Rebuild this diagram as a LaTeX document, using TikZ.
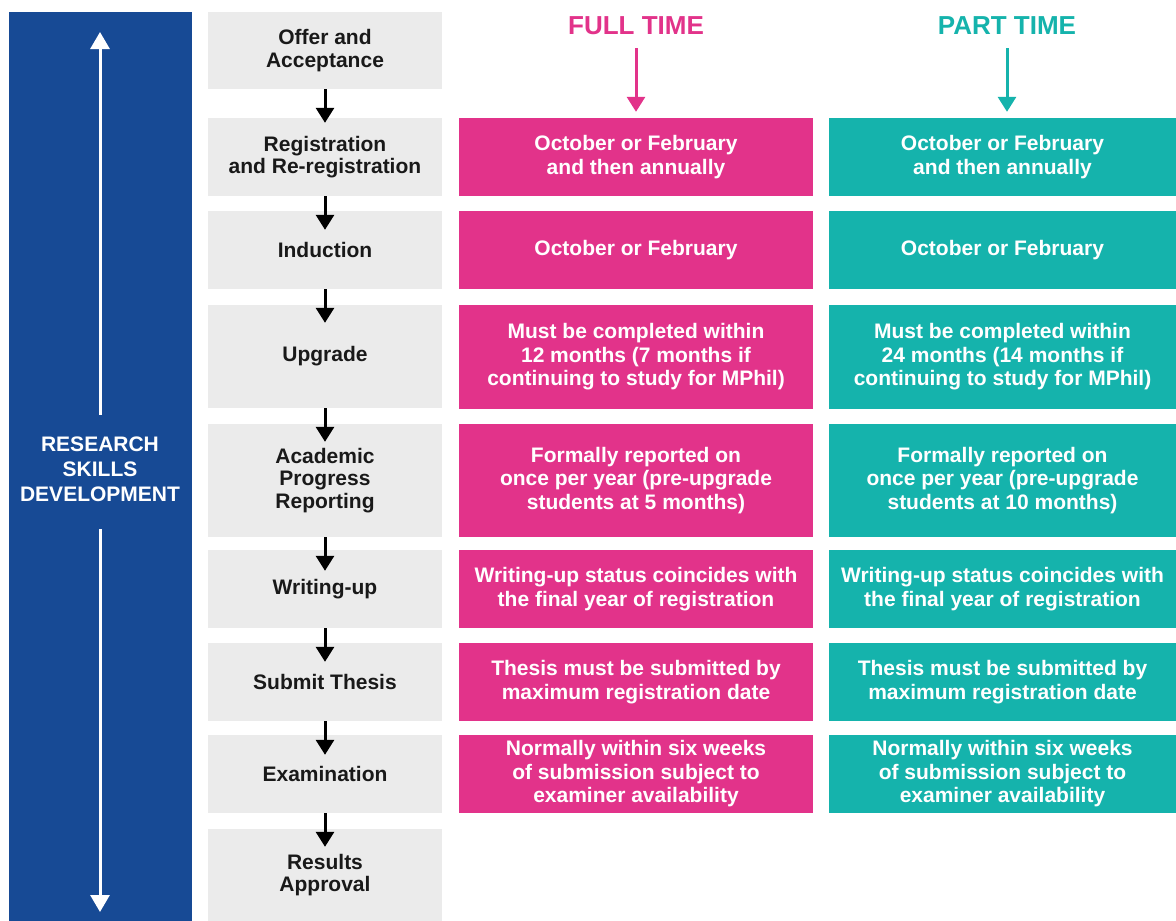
\documentclass[tikz,border=0pt]{standalone}
\usepackage{fontspec}
\setmainfont{Liberation Sans}
\usetikzlibrary{arrows.meta}
\definecolor{rsblue}{HTML}{174A95}
\definecolor{ftpink}{HTML}{E2338A}
\definecolor{ptteal}{HTML}{15B3AC}
\definecolor{stagegray}{HTML}{EBEBEB}
\begin{document}
\begin{tikzpicture}[x=1pt,y=-1pt,
  stagebox/.style={fill=stagegray, minimum width=234pt, inner sep=0pt, align=center,
    font=\fontsize{21}{22.5}\selectfont\bfseries, text=black!90},
  ftbox/.style={fill=ftpink, minimum width=354pt, inner sep=0pt, align=center,
    font=\fontsize{21}{23.5}\selectfont\bfseries, text=white},
  ptbox/.style={fill=ptteal, minimum width=347pt, inner sep=0pt, align=center,
    font=\fontsize{21}{23.5}\selectfont\bfseries, text=white},
  title/.style={inner sep=0pt, font=\fontsize{26}{28}\selectfont\bfseries},
  blarr/.style={draw=black, line width=3pt, -{Triangle[width=18pt,length=15pt]}},
  colarr/.style={line width=3pt, -{Triangle[width=18pt,length=15pt]}},
  warr/.style={draw=white, line width=3pt, -{Triangle[width=19pt,length=17pt]}}
]
\useasboundingbox (0,0) rectangle (1176,921);
\fill[white] (0,0) rectangle (1176,921);

% left bar
\node[fill=rsblue, minimum width=183pt, minimum height=909pt, inner sep=0pt] (bar) at (100.5,466.5) {};
\node[inner sep=0pt, minimum height=114pt, align=center, text=white,
  font=\fontsize{21}{25}\selectfont\bfseries] (rsd) at (100,469) {RESEARCH\\SKILLS\\DEVELOPMENT};
\coordinate (rtop) at (100,32);
\coordinate (rbot) at (100,912);
\draw[warr] ([yshift=-3pt]rsd.north) -- (rtop);
\draw[warr] ([yshift=-3pt]rsd.south) -- (rbot);

% stage column
\node[stagebox, minimum height=77pt]  (g1) at (325,50.5)  {Offer and\\Acceptance};
\node[stagebox, minimum height=78pt]  (g2) at (325,157)   {Registration\\and Re-registration};
\node[stagebox, minimum height=78pt]  (g3) at (325,250)   {Induction};
\node[stagebox, minimum height=103pt] (g4) at (325,356.5) {Upgrade};
\node[stagebox, minimum height=113pt] (g5) at (325,480.5) {Academic\\Progress\\Reporting};
\node[stagebox, minimum height=78pt]  (g6) at (325,589)   {Writing-up};
\node[stagebox, minimum height=78pt]  (g7) at (325,682)   {Submit Thesis};
\node[stagebox, minimum height=78pt]  (g8) at (325,774)   {Examination};
\node[stagebox, minimum height=92pt]  (g9) at (325,875)   {Results\\Approval};

\draw[blarr] (g1.south) -- ([yshift=-5pt]g2.north);
\draw[blarr] (g2.south) -- ([yshift=-19pt]g3.north);
\draw[blarr] (g3.south) -- ([yshift=-18pt]g4.north);
\draw[blarr] (g4.south) -- ([yshift=-18pt]g5.north);
\draw[blarr] (g5.south) -- ([yshift=-21pt]g6.north);
\draw[blarr] (g6.south) -- ([yshift=-19pt]g7.north);
\draw[blarr] (g7.south) -- ([yshift=-20pt]g8.north);
\draw[blarr] (g8.south) -- ([yshift=-18pt]g9.north);

% titles
\node[title, text=ftpink] (ft) at (636,26) {FULL TIME};
\node[title, text=ptteal] (pt) at (1007,26) {PART TIME};

% full time column
\node[ftbox, minimum height=78pt]  (f2) at (636,157)   {October or February\\and then annually};
\node[ftbox, minimum height=78pt]  (f3) at (636,250)   {October or February};
\node[ftbox, minimum height=104pt] (f4) at (636,357)   {Must be completed within\\12 months (7 months if\\continuing to study for MPhil)};
\node[ftbox, minimum height=113pt] (f5) at (636,480.5) {Formally reported on\\once per year (pre-upgrade\\students at 5 months)};
\node[ftbox, minimum height=78pt]  (f6) at (636,589)   {Writing-up status coincides with\\the final year of registration};
\node[ftbox, minimum height=78pt]  (f7) at (636,682)   {Thesis must be submitted by\\maximum registration date};
\node[ftbox, minimum height=78pt]  (f8) at (636,774)   {Normally within six weeks\\of submission subject to\\examiner availability};

% part time column
\node[ptbox, minimum height=78pt]  (p2) at (1002.5,157)   {October or February\\and then annually};
\node[ptbox, minimum height=78pt]  (p3) at (1002.5,250)   {October or February};
\node[ptbox, minimum height=104pt] (p4) at (1002.5,357)   {Must be completed within\\24 months (14 months if\\continuing to study for MPhil)};
\node[ptbox, minimum height=113pt] (p5) at (1002.5,480.5) {Formally reported on\\once per year (pre-upgrade\\students at 10 months)};
\node[ptbox, minimum height=78pt]  (p6) at (1002.5,589)   {Writing-up status coincides with\\the final year of registration};
\node[ptbox, minimum height=78pt]  (p7) at (1002.5,682)   {Thesis must be submitted by\\maximum registration date};
\node[ptbox, minimum height=78pt]  (p8) at (1002.5,774)   {Normally within six weeks\\of submission subject to\\examiner availability};

\draw[colarr, draw=ftpink, fill=ftpink] ([yshift=-13pt]ft.south) -- ([yshift=6pt]f2.north);
\draw[colarr, draw=ptteal, fill=ptteal] ([yshift=-13pt]pt.south) -- ([yshift=6pt]p2.north -| pt.south);
\end{tikzpicture}
\end{document}
